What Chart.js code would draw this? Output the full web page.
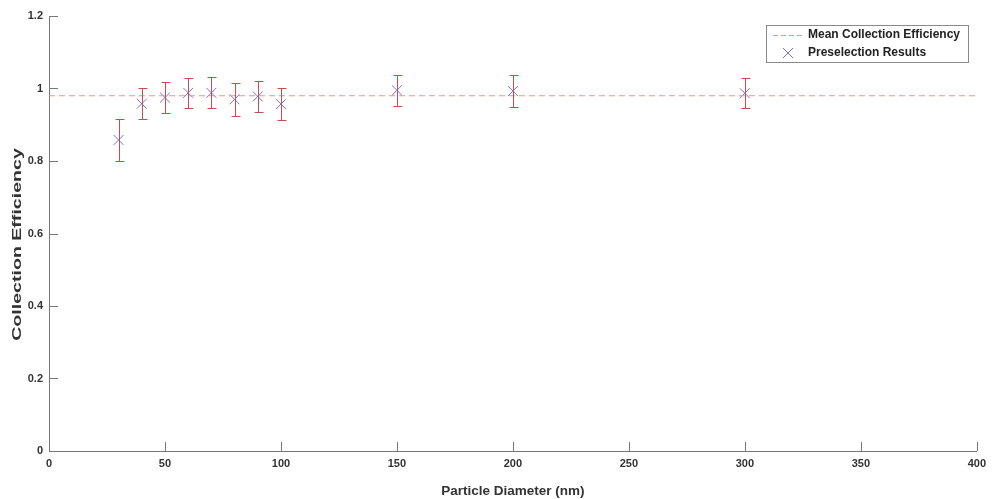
<!DOCTYPE html>
<html><head><meta charset="utf-8">
<script src="https://cdn.jsdelivr.net/npm/chart.js@4"></script>
<style>html,body{margin:0;padding:0;background:#fff}#wrap{width:992px;height:499px;position:relative}</style>
</head><body><div id="wrap"><canvas id="c" width="992" height="499"></canvas></div>
<script>
const diameters = [30, 40, 50, 60, 70, 80, 90, 100, 150, 200, 300];
const efficiency = [0.858, 0.958, 0.975, 0.988, 0.988, 0.970, 0.978, 0.957, 0.995, 0.993, 0.987];
const errors = [0.057, 0.043, 0.042, 0.042, 0.043, 0.045, 0.043, 0.045, 0.043, 0.045, 0.041];
const meanEfficiency = 0.98;
const xTicks = [0, 50, 100, 150, 200, 250, 300, 350, 400];
const yTicks = [0, 0.2, 0.4, 0.6, 0.8, 1, 1.2];
const legendLabels = ['Mean Collection Efficiency', 'Preselection Results'];
const xTitle = 'Particle Diameter (nm)';
const yTitle = 'Collection Efficiency';

const FONT = 'Liberation Sans, Arial, sans-serif';
const tickFont = {family: FONT, size: 11, weight: 'bold'};
const tickColor = '#333';
const markerColor = '#7d70d2';
const meanColor = '#e59595';
const barColor = '#c0504d';

const errorBars = {
  id: 'errorBars',
  afterDatasetsDraw(chart) {
    const {ctx, scales: {x, y}} = chart;
    ctx.save();
    ctx.strokeStyle = barColor;
    ctx.lineWidth = 1;
    diameters.forEach((d, i) => {
      const px = Math.round(x.getPixelForValue(d)) + 0.5;
      const top = Math.round(y.getPixelForValue(efficiency[i] + errors[i])) + 0.5;
      const bot = Math.round(y.getPixelForValue(efficiency[i] - errors[i])) + 0.5;
      ctx.beginPath();
      ctx.moveTo(px, top); ctx.lineTo(px, bot);
      ctx.moveTo(px - 4, top); ctx.lineTo(px + 5, top);
      ctx.moveTo(px - 4, bot); ctx.lineTo(px + 5, bot);
      ctx.stroke();
    });
    ctx.restore();
  }
};

const decorations = {
  id: 'decorations',
  afterDraw(chart) {
    const {ctx, scales: {x, y}, chartArea: a} = chart;
    ctx.save();
    ctx.strokeStyle = '#777';
    ctx.lineWidth = 1;
    ctx.beginPath();
    xTicks.forEach(v => {
      const px = Math.round(x.getPixelForValue(v)) + 0.5;
      ctx.moveTo(px, a.bottom); ctx.lineTo(px, a.bottom - 9);
    });
    yTicks.forEach(v => {
      const py = Math.round(y.getPixelForValue(v)) + 0.5;
      ctx.moveTo(a.left, py); ctx.lineTo(a.left + 9, py);
    });
    ctx.stroke();
    // y-axis title (vertically stretched like the reference)
    ctx.save();
    ctx.translate(17, (a.top + a.bottom) / 2 + 11);
    ctx.rotate(-Math.PI / 2);
    ctx.scale(1.45, 1);
    ctx.fillStyle = '#333';
    ctx.font = 'bold 13.5px ' + FONT;
    ctx.textAlign = 'center';
    ctx.textBaseline = 'middle';
    ctx.fillText(yTitle, 0, 0);
    ctx.restore();
    // legend box
    const lx = 766, ly = 25, lw = 202, lh = 37;
    ctx.fillStyle = '#fff';
    ctx.fillRect(lx, ly, lw, lh);
    ctx.strokeStyle = '#8a8a8a';
    ctx.strokeRect(lx + 0.5, ly + 0.5, lw, lh);
    ctx.strokeStyle = meanColor;
    ctx.setLineDash([5, 3]);
    ctx.beginPath();
    ctx.moveTo(lx + 7, ly + 10.5); ctx.lineTo(lx + 37, ly + 10.5);
    ctx.stroke();
    ctx.setLineDash([]);
    ctx.strokeStyle = markerColor;
    ctx.beginPath();
    const cx = lx + 22, cy = ly + 28;
    ctx.moveTo(cx - 5, cy - 5); ctx.lineTo(cx + 5, cy + 5);
    ctx.moveTo(cx - 5, cy + 5); ctx.lineTo(cx + 5, cy - 5);
    ctx.stroke();
    ctx.fillStyle = '#222';
    ctx.font = 'bold 12px ' + FONT;
    ctx.textBaseline = 'middle';
    ctx.fillText(legendLabels[0], lx + 42, ly + 10);
    ctx.fillText(legendLabels[1], lx + 42, ly + 28);
    ctx.restore();
  }
};

new Chart(document.getElementById('c'), {
  type: 'scatter',
  data: {
    datasets: [
      {
        label: legendLabels[0],
        type: 'line',
        data: [{x: xTicks[0], y: meanEfficiency}, {x: xTicks[xTicks.length - 1], y: meanEfficiency}],
        borderColor: meanColor,
        borderWidth: 1,
        borderDash: [6, 4],
        pointRadius: 0,
        fill: false
      },
      {
        label: legendLabels[1],
        data: diameters.map((d, i) => ({x: d, y: efficiency[i]})),
        pointStyle: 'crossRot',
        pointRadius: 7,
        borderColor: markerColor,
        borderWidth: 1,
        backgroundColor: markerColor
      }
    ]
  },
  options: {
    responsive: false,
    animation: false,
    layout: {padding: {top: 16, right: 15, left: 0, bottom: 0}},
    plugins: {legend: {display: false}, tooltip: {enabled: false}},
    scales: {
      x: {
        type: 'linear', min: 0, max: 400,
        afterBuildTicks: s => { s.ticks = xTicks.map(v => ({value: v})); },
        afterFit: s => { s.height = 48; },
        grid: {display: false, drawTicks: false},
        border: {display: true, color: '#777', width: 1},
        ticks: {font: tickFont, color: tickColor, padding: 6, maxRotation: 0},
        title: {display: true, text: xTitle, font: {family: FONT, size: 13.5, weight: 'bold'}, color: '#333', padding: {top: 7, bottom: 0}}
      },
      y: {
        type: 'linear', min: 0, max: 1.2,
        afterBuildTicks: s => { s.ticks = yTicks.map(v => ({value: v})); },
        afterFit: s => { s.width = 49; },
        grid: {display: false, drawTicks: false},
        border: {display: true, color: '#777', width: 1},
        ticks: {font: tickFont, color: tickColor, padding: 6, callback: v => String(v)}
      }
    }
  },
  plugins: [errorBars, decorations]
});
</script></body></html>
